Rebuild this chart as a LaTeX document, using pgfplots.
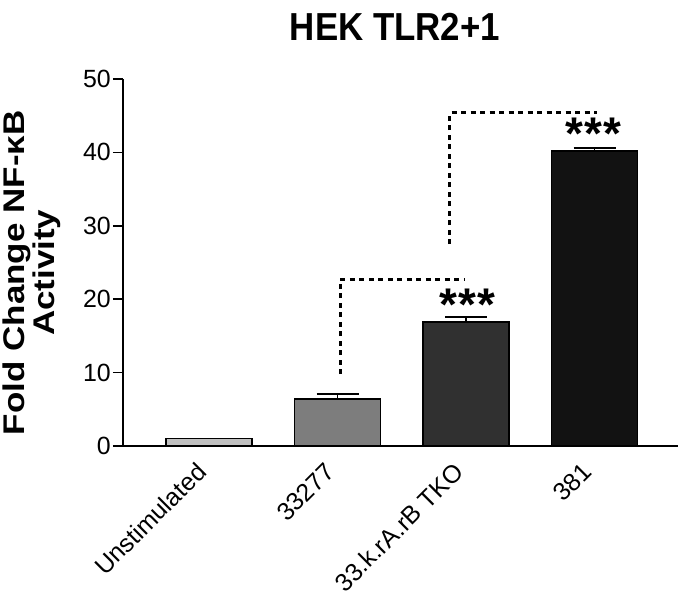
\documentclass[border=0pt]{standalone}
\usepackage{fontspec}
\setmainfont{Liberation Sans}
\usepackage{pgfplots}
\pgfplotsset{compat=1.18}

\definecolor{barA}{RGB}{192,192,192}
\definecolor{barB}{RGB}{125,125,125}
\definecolor{barC}{RGB}{48,48,48}
\definecolor{barD}{RGB}{18,18,18}

\newcommand{\wide}[1]{\scalebox{1.17}[1]{#1}}

\begin{document}
\begin{tikzpicture}[x=1bp,y=1bp]
\useasboundingbox (-123,-150) rectangle (557,446);
\begin{axis}[
    at={(0,0)}, anchor=south west,
    scale only axis,
    width=555bp, height=367bp,
    xmin=-0.67, xmax=3.65,
    ymin=0, ymax=50,
    axis x line*=bottom,
    axis y line*=left,
    axis line style={line width=1.8pt},
    ytick={0,10,20,30,40,50},
    xtick={0,1,2,3},
    xticklabels={Unstimulated,33277,33.k.rA.rB TKO,381},
    x tick style={draw=none},
    y tick style={line width=1.6pt, black},
    tick align=outside,
    major tick length=10bp,
    /pgf/number format/assume math mode=true,
    yticklabel style={font=\fontsize{25}{28}\selectfont, inner sep=2pt},
    xticklabel style={font=\fontsize{25}{28}\selectfont, anchor=east, yshift=-10bp, xshift=-6bp, rotate=45, inner sep=2pt},
    ylabel={\wide{Fold Change NF-κB}\\\wide{Activity}},
    ylabel style={font=\bfseries\fontsize{30}{30}\selectfont, align=center, inner sep=0pt,
        at={(axis description cs:-0.112,0.472)}, anchor=south},
    ybar, bar width=86bp, bar shift=0pt,
    clip=false,
]
\addplot[fill=barA, draw=black, line width=1.3pt] coordinates {(0,1.0)};
\addplot[fill=barB, draw=black, line width=1.3pt,
    error bars/.cd, y dir=plus, y explicit,
    error bar style={line width=1.6pt, black},
    error mark options={rotate=90, mark size=21bp, line width=1.6pt, black}]
    coordinates {(1,6.4) +- (0,0.7)};
\addplot[fill=barC, draw=black, line width=1.3pt,
    error bars/.cd, y dir=plus, y explicit,
    error bar style={line width=1.6pt, black},
    error mark options={rotate=90, mark size=21bp, line width=1.6pt, black}]
    coordinates {(2,16.9) +- (0,0.7)};
\addplot[fill=barD, draw=black, line width=1.3pt,
    error bars/.cd, y dir=plus, y explicit,
    error bar style={line width=1.6pt, black},
    error mark options={rotate=90, mark size=21bp, line width=1.6pt, black}]
    coordinates {(3,40.2) +- (0,0.4)};

% significance brackets
\draw[line width=3pt, dash pattern=on 5bp off 4.5bp]
    (axis cs:1.02,9.8) -- (axis cs:1.02,22.7) -- (axis cs:1.99,22.7);
\draw[line width=3pt, dash pattern=on 5bp off 4.5bp]
    (axis cs:1.875,27.5) -- (axis cs:1.875,45.4) -- (axis cs:3.02,45.4);

\node[font=\bfseries\fontsize{46}{46}\selectfont, anchor=base, inner sep=0pt]
    at (axis cs:2.01,17.15) {*\kern1bp*\kern1bp*};
\node[font=\bfseries\fontsize{46}{46}\selectfont, anchor=base, inner sep=0pt]
    at (axis cs:2.99,40.4) {*\kern1bp*\kern1bp*};
\end{axis}
\node[font=\bfseries\fontsize{35}{36}\selectfont] at (272,419) {\scalebox{1}[1.12]{HEK TLR2+1}};
\end{tikzpicture}
\end{document}
